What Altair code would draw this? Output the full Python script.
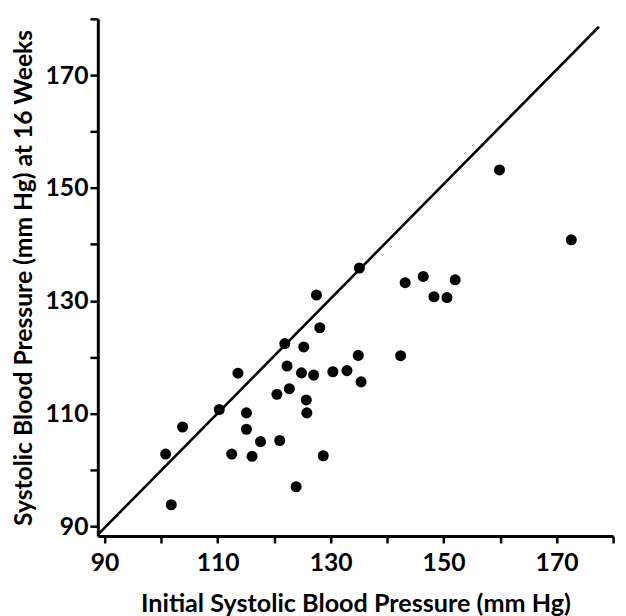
import altair as alt
import pandas as pd

# Initial systolic BP (x) and BP at 16 weeks (y)
initial_bp = [100.8, 101.8, 103.8, 110.3, 113.6, 115.1, 115.1, 112.5, 116.1, 117.6,
              121.0, 120.5, 121.9, 122.3, 122.7, 123.9, 125.25, 124.85, 125.7, 125.8,
              127.0, 127.5, 128.1, 128.7, 130.4, 132.9, 134.9, 135.4, 135.1, 142.4,
              143.2, 146.4, 148.3, 150.6, 152.05, 159.9, 172.6]
week16_bp = [102.8, 93.8, 107.6, 110.7, 117.15, 110.1, 107.2, 102.8, 102.4, 105.0,
             105.2, 113.4, 122.4, 118.4, 114.4, 97.0, 121.8, 117.2, 112.4, 110.1,
             116.8, 131.0, 125.2, 102.5, 117.4, 117.6, 120.3, 115.6, 135.8, 120.25,
             133.2, 134.3, 130.7, 130.55, 133.7, 153.2, 140.8]

# Line of identity
line_x = [88.9, 177.5]
line_y = [88.6, 178.6]

tick_values = [90, 100, 110, 120, 130, 140, 150, 160, 170, 180]
x_domain = [88.8, 180]
y_domain = [88.25, 180]

FONT = "Lato"

pts = pd.DataFrame({"x": initial_bp, "y": week16_bp})
ln = pd.DataFrame({"x": line_x, "y": line_y})

label_expr = "datum.value % 20 == 10 ? datum.label : ''"

x_enc = alt.X(
    "x:Q",
    scale=alt.Scale(domain=x_domain, nice=False, zero=False),
    axis=alt.Axis(
        title="Initial Systolic Blood Pressure (mm Hg)",
        values=tick_values,
        labelExpr=label_expr,
        grid=False,
        tickSize=7,
        tickWidth=2.5,
        tickColor="black",
        domainWidth=3,
        domainColor="black",
        labelFont=FONT,
        labelFontSize=25,
        labelFontWeight="bold",
        labelColor="black",
        labelPadding=8,
        labelFlush=False,
        labelOverlap=False,
        titleFont=FONT,
        titleFontSize=25.5,
        titleFontWeight="bold",
        titleColor="black",
        titlePadding=16,
    ),
)

y_enc = alt.Y(
    "y:Q",
    scale=alt.Scale(domain=y_domain, nice=False, zero=False),
    axis=alt.Axis(
        title="Systolic Blood Pressure (mm Hg) at 16 Weeks",
        values=tick_values,
        labelExpr=label_expr,
        grid=False,
        tickSize=8,
        tickWidth=2.5,
        tickColor="black",
        domainWidth=3,
        domainColor="black",
        labelFont=FONT,
        labelFontSize=25,
        labelFontWeight="bold",
        labelColor="black",
        labelPadding=2,
        labelFlush=False,
        labelOverlap=False,
        titleFont=FONT,
        titleFontSize=25,
        titleFontWeight="bold",
        titleColor="black",
        titlePadding=9,
    ),
)

line = alt.Chart(ln).mark_line(color="black", strokeWidth=2.6, clip=False).encode(
    x=x_enc, y=y_enc
)

points = alt.Chart(pts).mark_circle(color="black", opacity=1, size=125).encode(
    x=alt.X("x:Q"), y=alt.Y("y:Q")
)

chart = (
    alt.layer(line, points)
    .properties(
        width=522,
        height=524,
        autosize=alt.AutoSizeParams(type="none"),
        padding={"left": 91, "top": 7, "right": 5, "bottom": 77},
        background="white",
    )
    .configure_view(stroke=None)
)

chart.save("out.html", embed_options={"renderer": "svg", "actions": False})
